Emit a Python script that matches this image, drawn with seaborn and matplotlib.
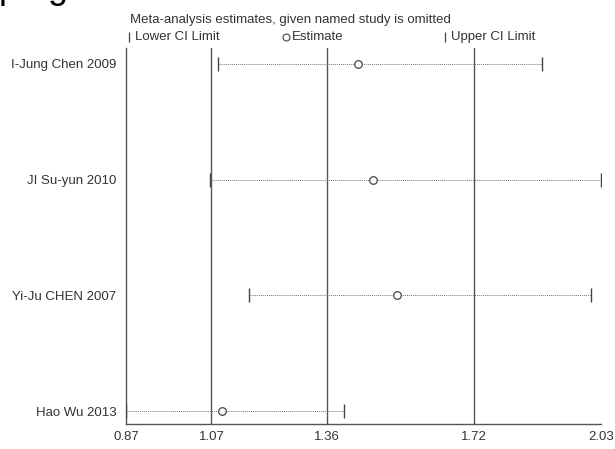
import numpy as np
import matplotlib
matplotlib.use("Agg")
import matplotlib.pyplot as plt
import seaborn as sns

# leave-one-out sensitivity analysis
studies = ["I-Jung Chen 2009", "JI Su-yun 2010", "Yi-Ju CHEN 2007", "Hao Wu 2013"]
estimate = [1.435, 1.474, 1.531, 1.103]
lower = [1.095, 1.074, 1.170, 0.870]
upper = [1.885, 2.030, 2.006, 1.401]

# overall estimate and CI (vertical lines) and axis ticks
ref_lines = [1.078, 1.36, 1.72]
tick_vals = [0.87, 1.078, 1.36, 1.72, 2.03]
tick_labels = ["0.87", "1.07", "1.36", "1.72", "2.03"]

sns.set_style("white")
plt.rcParams["font.family"] = ["Liberation Sans", "DejaVu Sans"]

grey = "#555555"
txt = "#333333"

fig = plt.figure(figsize=(6.15, 4.49), dpi=100)
ax = fig.add_axes([0.2054, 0.0557, 0.7718, 0.8374])

ypos = np.arange(len(studies))

for x in ref_lines:
    ax.axvline(x, color=grey, lw=1.0, zorder=1)

ax.hlines(ypos, lower, upper, colors="#777777", linestyles=(0, (1, 1)), lw=0.7, zorder=2)
sns.scatterplot(x=lower, y=ypos, marker="|", s=110, color="#444444", linewidth=1.0, ax=ax, zorder=3)
sns.scatterplot(x=upper, y=ypos, marker="|", s=110, color="#444444", linewidth=1.0, ax=ax, zorder=3)
sns.scatterplot(x=estimate, y=ypos, marker="o", s=30, facecolor="white", edgecolor="#444444",
                linewidth=0.9, ax=ax, zorder=4)

ax.set_xlim(0.87, 2.03)
ax.set_ylim(3.112, -0.138)
ax.set_xticks(tick_vals)
ax.set_xticklabels(tick_labels)
ax.set_yticks(ypos)
ax.set_yticklabels(studies)
ax.set_xlabel("")
ax.set_ylabel("")

for s in ["top", "right"]:
    ax.spines[s].set_visible(False)
for s in ["left", "bottom"]:
    ax.spines[s].set_color(grey)
    ax.spines[s].set_linewidth(1.0)

ax.tick_params(axis="x", length=3, width=1.0, color=grey, pad=2, labelsize=9.5, labelcolor=txt)
ax.tick_params(axis="y", length=0, pad=7, labelsize=9.5, labelcolor=txt)

# title and legend row above the plot
ax.text(0.008, 1.075, "Meta-analysis estimates, given named study is omitted",
        transform=ax.transAxes, fontsize=9.5, color=txt, va="center", ha="left")
leg_y = 1.03
leg_items = [(0.006, "|", "Lower CI Limit"), (0.337, "o", "Estimate"), (0.672, "|", "Upper CI Limit")]
for lx, mk, lab in leg_items:
    if mk == "o":
        ax.plot([lx], [leg_y], marker="o", ms=5, mfc="white", mec="#444444", mew=0.8,
                transform=ax.transAxes, clip_on=False)
    else:
        ax.plot([lx], [leg_y], marker="|", ms=7, color="#444444", mew=0.9,
                transform=ax.transAxes, clip_on=False)
    ax.text(lx + 0.012, leg_y, lab, transform=ax.transAxes, fontsize=9.5, color=txt,
            va="center", ha="left")

# descenders of page text cut off at the top edge
fig.text(-0.002, 1.0035, "p", fontsize=26, color="black", va="baseline", ha="left")
fig.text(0.078, 1.0035, "g", fontsize=26, color="black", va="baseline", ha="left")

fig.savefig("out.png", dpi=100)
